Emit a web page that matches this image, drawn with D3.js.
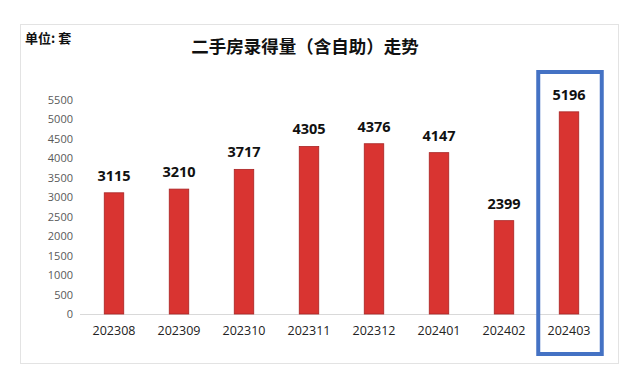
<!DOCTYPE html>
<html>
<head>
<meta charset="utf-8">
<script src="https://cdn.jsdelivr.net/npm/d3@7"></script>
<style>
  body { margin: 0; background: #fff; }
  svg { display: block; }
</style>
</head>
<body>
<svg id="chart" width="640" height="374"></svg>
<script>
var months = ["202308", "202309", "202310", "202311", "202312", "202401", "202402", "202403"];
var counts = [3115, 3210, 3717, 4305, 4376, 4147, 2399, 5196];
var yTicks = [0, 500, 1000, 1500, 2000, 2500, 3000, 3500, 4000, 4500, 5000, 5500];
var titleText = "二手房录得量（含自助）走势";
var unitText = "单位: 套";
var highlight = "202403";

var svg = d3.select("#chart");

// outer frame
svg.append("rect")
  .attr("x", 20.5).attr("y", 24.5)
  .attr("width", 598).attr("height", 339)
  .attr("fill", "#fff")
  .attr("stroke", "#e3e3e3");

svg.append("text")
  .attr("x", 25).attr("y", 43)
  .attr("font-family", "'Noto Sans CJK SC', sans-serif")
  .attr("font-weight", "bold")
  .attr("font-size", 13)
  .attr("fill", "#111")
  .text(unitText);

svg.append("text")
  .attr("x", 305).attr("y", 53)
  .attr("text-anchor", "middle")
  .attr("font-family", "'Noto Sans CJK SC', serif")
  .attr("font-weight", "bold")
  .attr("font-size", 17.5)
  .attr("fill", "#111")
  .text(titleText);

var x = d3.scaleBand()
  .domain(months)
  .range([81.5, 601.5])
  .paddingInner(0.7)
  .paddingOuter(0.35);

var y = d3.scaleLinear()
  .domain([0, 5500])
  .range([314, 100]);

// y axis labels
var yAxis = d3.axisLeft(y).tickValues(yTicks).tickFormat(d3.format("d")).tickSize(0).tickPadding(0);
var gy = svg.append("g")
  .attr("transform", "translate(73,0)")
  .call(yAxis);
gy.select(".domain").remove();
gy.selectAll("text")
  .attr("font-family", "'Open Sans', sans-serif")
  .attr("font-size", 11)
  .attr("fill", "#595959");

// baseline
svg.append("line")
  .attr("x1", 80).attr("x2", 601)
  .attr("y1", y(0) + 0.5).attr("y2", y(0) + 0.5)
  .attr("stroke", "#d9d9d9");

// x axis labels
var xAxis = d3.axisBottom(x).tickSize(0).tickPadding(12);
var gx = svg.append("g")
  .attr("transform", "translate(0," + y(0) + ")")
  .call(xAxis);
gx.select(".domain").remove();
gx.selectAll("text")
  .attr("font-family", "'Open Sans', sans-serif")
  .attr("font-size", 12.5)
  .attr("fill", "#222");

svg.selectAll(".bar")
  .data(counts)
  .enter().append("rect")
  .attr("class", "bar")
  .attr("x", function(d, i) { return x(months[i]); })
  .attr("y", function(d) { return y(d); })
  .attr("width", x.bandwidth())
  .attr("height", function(d) { return y(0) - y(d); })
  .attr("fill", "#d93431")
  .attr("stroke", "#a82424")
  .attr("stroke-width", 0.8);

svg.selectAll(".lbl")
  .data(counts)
  .enter().append("text")
  .attr("class", "lbl")
  .attr("x", function(d, i) { return x(months[i]) + x.bandwidth() / 2; })
  .attr("y", function(d) { return y(d) - 12; })
  .attr("text-anchor", "middle")
  .attr("font-family", "'Open Sans', sans-serif")
  .attr("font-weight", "bold")
  .attr("font-size", 14.5)
  .attr("fill", "#111")
  .text(function(d) { return d; });

// highlight box on last month
svg.append("rect")
  .attr("x", x(highlight) - 21)
  .attr("y", 72)
  .attr("width", x.bandwidth() + 44)
  .attr("height", 282)
  .attr("fill", "none")
  .attr("stroke", "#4472c4")
  .attr("stroke-width", 4);
</script>
</body>
</html>
